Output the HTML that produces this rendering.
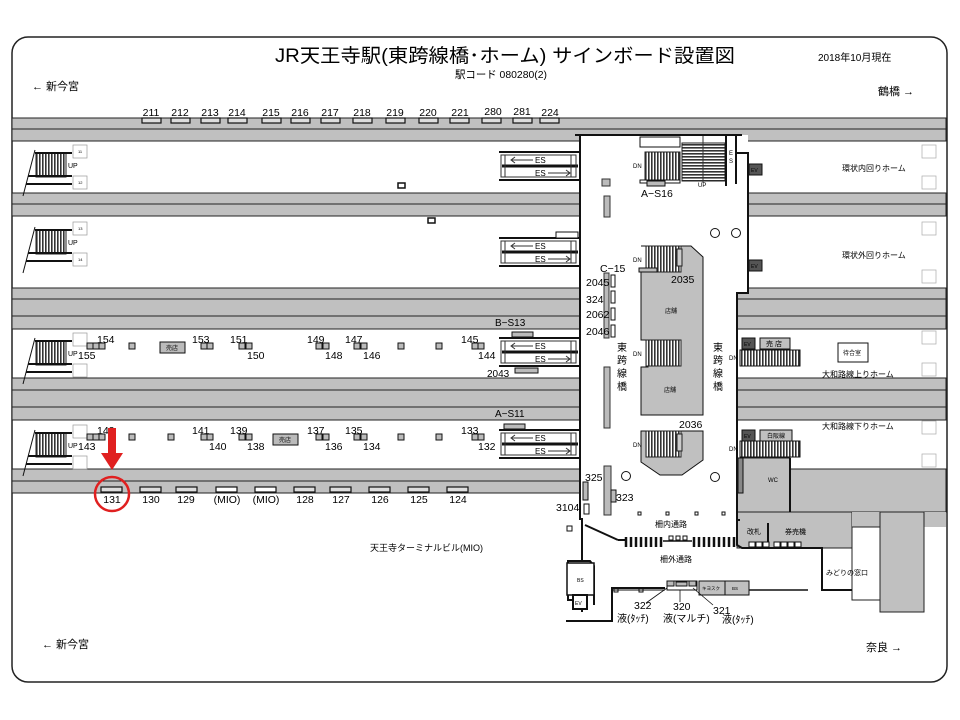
<!DOCTYPE html>
<html><head><meta charset="utf-8"><style>
html,body{margin:0;padding:0;background:#fff}
svg{display:block}
text{font-family:"Liberation Sans","Noto Sans CJK JP",sans-serif;fill:#000}
</style></head><body>
<svg width="960" height="720" viewBox="0 0 960 720" xmlns="http://www.w3.org/2000/svg">
<defs>
<pattern id="vs" width="3" height="10" patternUnits="userSpaceOnUse"><rect width="3" height="10" fill="#fff"/><rect width="1.6" height="10" fill="#333"/></pattern>
<pattern id="hs" width="10" height="3" patternUnits="userSpaceOnUse"><rect width="10" height="3" fill="#fff"/><rect width="10" height="1.6" fill="#333"/></pattern>
</defs>
<rect x="12" y="37" width="935" height="645" rx="16" fill="#fff" stroke="#222" stroke-width="1.5"/>

<g fill="#c0c0c0" stroke="#222" stroke-width="1">
<rect x="12" y="118" width="934" height="11"/>
<rect x="12" y="129" width="934" height="12"/>
<rect x="12" y="193" width="934" height="11"/>
<rect x="12" y="204" width="934" height="12"/>
<rect x="12" y="288" width="934" height="11"/>
<rect x="12" y="299" width="934" height="17"/>
<rect x="12" y="316" width="934" height="13"/>
<rect x="12" y="378" width="934" height="12"/>
<rect x="12" y="390" width="934" height="17"/>
<rect x="12" y="407" width="934" height="13"/>
<rect x="12" y="469" width="934" height="12"/>
<rect x="12" y="481" width="934" height="12"/>
</g>
<g fill="#c0c0c0" stroke="#222" stroke-width="1">
<rect x="790" y="469" width="156" height="43"/>
<rect x="737" y="458" width="53" height="54"/>
<rect x="737" y="512" width="115" height="36"/>
<rect x="852" y="512" width="94" height="15" stroke="none"/>
<rect x="880" y="512" width="44" height="100"/>
<rect x="852" y="527" width="28" height="73" fill="#fff"/>
</g>
<path d="M580 135 H748 V154 H748 V293 H737 V512 H737 V520 H580 Z" fill="#fff"/>
<g stroke="#111" stroke-width="2" fill="none">
<line x1="580" y1="135" x2="580" y2="520"/>
<line x1="575" y1="135" x2="742" y2="135"/>
<polyline points="737,153 748,153 748,293 737,293 737,512"/>
<polyline points="737,512 737,520 740,520"/>
<line x1="790" y1="458" x2="790" y2="512"/>
</g>

<g font-size="10.5" text-anchor="middle">
<text x="151" y="116">211</text><text x="180" y="116">212</text><text x="210" y="116">213</text><text x="237" y="116">214</text><text x="271" y="116">215</text><text x="300" y="116">216</text><text x="330" y="116">217</text><text x="362" y="116">218</text><text x="395" y="116">219</text><text x="428" y="116">220</text><text x="460" y="116">221</text><text x="493" y="115">280</text><text x="522" y="115">281</text><text x="550" y="116">224</text>
</g>
<g fill="#ddd" stroke="#111" stroke-width="1.2">
<rect x="142" y="118" width="19" height="5"/><rect x="171" y="118" width="19" height="5"/><rect x="201" y="118" width="19" height="5"/><rect x="228" y="118" width="19" height="5"/><rect x="262" y="118" width="19" height="5"/><rect x="291" y="118" width="19" height="5"/><rect x="321" y="118" width="19" height="5"/><rect x="353" y="118" width="19" height="5"/><rect x="386" y="118" width="19" height="5"/><rect x="419" y="118" width="19" height="5"/><rect x="450" y="118" width="19" height="5"/><rect x="482" y="118" width="19" height="5"/><rect x="513" y="118" width="19" height="5"/><rect x="540" y="118" width="19" height="5"/>
</g>

<g id="st">
<rect x="36" y="153" width="30" height="24" fill="url(#vs)" stroke="#222"/>
<line x1="35" y1="153" x2="72" y2="153" stroke="#111" stroke-width="2"/>
<line x1="28" y1="176" x2="72" y2="176" stroke="#111" stroke-width="2"/>
<line x1="26" y1="184" x2="72" y2="184" stroke="#111" stroke-width="2"/>
<line x1="35" y1="150" x2="23" y2="196" stroke="#111"/>
<text x="68" y="168" font-size="7">UP</text>
<rect x="73" y="145" width="14" height="13" fill="#fff" stroke="#999" stroke-width="0.7"/>
<rect x="73" y="176" width="14" height="13" fill="#fff" stroke="#999" stroke-width="0.7"/>
</g>
<use href="#st" transform="translate(0,77)"/>
<use href="#st" transform="translate(0,188)"/>
<use href="#st" transform="translate(0,280)"/>
<g font-size="4" fill="#666"><text x="78" y="153">11</text><text x="78" y="184">12</text><text x="78" y="230">13</text><text x="78" y="261">14</text></g>
<rect x="398" y="183" width="7" height="5" fill="none" stroke="#111" stroke-width="1.5"/>
<rect x="428" y="218" width="7" height="5" fill="none" stroke="#111" stroke-width="1.5"/>

<g fill="#bbb" stroke="#111" stroke-width="1">
<rect x="87" y="343" width="6" height="6"/><rect x="93" y="343" width="6" height="6"/><rect x="99" y="343" width="6" height="6"/>
<rect x="129" y="343" width="6" height="6"/>
<rect x="201" y="343" width="6" height="6"/><rect x="207" y="343" width="6" height="6"/>
<rect x="239" y="343" width="6" height="6"/><rect x="246" y="343" width="6" height="6"/>
<rect x="316" y="343" width="6" height="6"/><rect x="323" y="343" width="6" height="6"/>
<rect x="354" y="343" width="6" height="6"/><rect x="361" y="343" width="6" height="6"/>
<rect x="398" y="343" width="6" height="6"/><rect x="436" y="343" width="6" height="6"/>
<rect x="472" y="343" width="6" height="6"/><rect x="478" y="343" width="6" height="6"/>
<rect x="160" y="342" width="25" height="11"/>
<rect x="87" y="434" width="6" height="6"/><rect x="93" y="434" width="6" height="6"/><rect x="99" y="434" width="6" height="6"/>
<rect x="129" y="434" width="6" height="6"/><rect x="168" y="434" width="6" height="6"/>
<rect x="201" y="434" width="6" height="6"/><rect x="207" y="434" width="6" height="6"/>
<rect x="239" y="434" width="6" height="6"/><rect x="246" y="434" width="6" height="6"/>
<rect x="316" y="434" width="6" height="6"/><rect x="323" y="434" width="6" height="6"/>
<rect x="354" y="434" width="6" height="6"/><rect x="361" y="434" width="6" height="6"/>
<rect x="398" y="434" width="6" height="6"/><rect x="436" y="434" width="6" height="6"/>
<rect x="472" y="434" width="6" height="6"/><rect x="478" y="434" width="6" height="6"/>
<rect x="273" y="434" width="25" height="11"/>
</g>
<g font-size="6"><text x="166" y="350">売店</text><text x="279" y="442">売店</text></g>
<g font-size="10.5">
<text x="97" y="343">154</text><text x="78" y="359">155</text><text x="192" y="343">153</text><text x="230" y="343">151</text><text x="247" y="359">150</text><text x="307" y="343">149</text><text x="345" y="343">147</text><text x="325" y="359">148</text><text x="363" y="359">146</text><text x="461" y="343">145</text><text x="478" y="359">144</text>
<text x="97" y="434">142</text><text x="78" y="450">143</text><text x="192" y="434">141</text><text x="209" y="450">140</text><text x="230" y="434">139</text><text x="247" y="450">138</text><text x="307" y="434">137</text><text x="345" y="434">135</text><text x="325" y="450">136</text><text x="363" y="450">134</text><text x="461" y="434">133</text><text x="478" y="450">132</text>
</g>

<g fill="#ddd" stroke="#111" stroke-width="1.2">
<rect x="101" y="487" width="21" height="5"/><rect x="140" y="487" width="21" height="5"/><rect x="176" y="487" width="21" height="5"/><rect x="216" y="487" width="21" height="5" fill="#fff"/><rect x="255" y="487" width="21" height="5" fill="#fff"/><rect x="294" y="487" width="21" height="5"/><rect x="330" y="487" width="21" height="5"/><rect x="369" y="487" width="21" height="5"/><rect x="408" y="487" width="21" height="5"/><rect x="447" y="487" width="21" height="5"/>
</g>
<g font-size="10.5" text-anchor="middle">
<text x="112" y="503">131</text><text x="151" y="503">130</text><text x="186" y="503">129</text><text x="227" y="503">(MIO)</text><text x="266" y="503">(MIO)</text><text x="305" y="503">128</text><text x="341" y="503">127</text><text x="380" y="503">126</text><text x="419" y="503">125</text><text x="458" y="503">124</text>
</g>
<circle cx="112" cy="494" r="17" fill="none" stroke="#e02020" stroke-width="2.5"/>
<rect x="108" y="428" width="8" height="27" fill="#e02020"/>
<polygon points="101,453 123,453 112,470" fill="#e02020"/>

<g id="es">
<line x1="499" y1="152" x2="580" y2="152" stroke="#111" stroke-width="2"/>
<line x1="499" y1="180" x2="580" y2="180" stroke="#111" stroke-width="2"/>
<line x1="502" y1="166" x2="578" y2="166" stroke="#111" stroke-width="3"/>
<rect x="501" y="155" width="75" height="22" fill="none" stroke="#333"/>
<line x1="505" y1="155" x2="505" y2="177" stroke="#333"/><line x1="571" y1="155" x2="571" y2="177" stroke="#333"/>
<text x="535" y="163" font-size="8">ES</text><text x="535" y="176" font-size="8">ES</text>
<line x1="512" y1="160" x2="533" y2="160" stroke="#333"/><line x1="548" y1="173" x2="570" y2="173" stroke="#333"/>
<polyline points="515,157 511,160 515,163" fill="none" stroke="#333"/><polyline points="566,170 570,173 566,176" fill="none" stroke="#333"/>
</g>
<use href="#es" transform="translate(0,86)"/>
<use href="#es" transform="translate(0,186)"/>
<use href="#es" transform="translate(0,278)"/>
<rect x="556" y="232" width="22" height="6" fill="#fff" stroke="#111"/>
<rect x="512" y="332" width="21" height="5" fill="#bbb" stroke="#111"/>
<rect x="515" y="368" width="23" height="5" fill="#bbb" stroke="#111"/>
<rect x="504" y="424" width="21" height="5" fill="#bbb" stroke="#111"/>
<g font-size="10"><text x="495" y="326">B−S13</text><text x="487" y="377">2043</text><text x="495" y="417">A−S11</text></g>

<rect x="640" y="137" width="40" height="10" fill="#fff" stroke="#111"/>
<rect x="645" y="152" width="35" height="28" fill="url(#vs)" stroke="#222"/>
<rect x="640" y="180" width="40" height="3" fill="#fff" stroke="#111"/>
<rect x="682" y="143" width="43" height="38" fill="url(#hs)" stroke="#222"/>
<line x1="703" y1="136" x2="703" y2="183" stroke="#333"/>
<line x1="726" y1="136" x2="726" y2="186" stroke="#111" stroke-width="2"/>
<line x1="736" y1="136" x2="736" y2="184" stroke="#111" stroke-width="2"/>
<text x="729" y="155" font-size="6">E</text><text x="729" y="163" font-size="6">S</text>
<text x="633" y="168" font-size="6">DN</text><text x="698" y="187" font-size="6">UP</text>
<rect x="647" y="181" width="18" height="5" fill="#bbb" stroke="#111"/>
<text x="641" y="197" font-size="10.5">A−S16</text>
<rect x="602" y="179" width="8" height="7" fill="#bbb" stroke="#333"/>
<rect x="604" y="196" width="6" height="21" fill="#bbb" stroke="#333"/>
<circle cx="715" cy="233" r="4.5" fill="#fff" stroke="#111"/><circle cx="736" cy="233" r="4.5" fill="#fff" stroke="#111"/>
<path d="M641 246 H691 L703 257 V415 H641 V367 H648 V340 H641 V272 H648 V246 Z" fill="#c0c0c0" stroke="#111"/>
<rect x="646" y="246" width="35" height="26" fill="url(#vs)" stroke="#222"/>
<rect x="677" y="249" width="5" height="17" fill="#ccc" stroke="#222"/>
<rect x="639" y="268" width="18" height="4" fill="#bbb" stroke="#111"/>
<rect x="646" y="340" width="35" height="26" fill="url(#vs)" stroke="#222"/>
<text x="665" y="313" font-size="6">店舗</text><text x="664" y="392" font-size="6">店舗</text>
<path d="M641 431 H703 V460 L682 475 H660 L641 462 Z" fill="#c0c0c0" stroke="#111"/>
<rect x="646" y="431" width="35" height="26" fill="url(#vs)" stroke="#222"/>
<rect x="677" y="434" width="5" height="17" fill="#ccc" stroke="#222"/>
<g font-size="6"><text x="633" y="262">DN</text><text x="633" y="356">DN</text><text x="633" y="447">DN</text></g>
<rect x="604" y="273" width="5" height="65" fill="#bbb" stroke="#333"/>
<g fill="#fff" stroke="#111"><rect x="611" y="275" width="4" height="12"/><rect x="611" y="291" width="4" height="12"/><rect x="611" y="308" width="4" height="12"/><rect x="611" y="325" width="4" height="12"/></g>
<rect x="604" y="367" width="6" height="61" fill="#bbb" stroke="#333"/>
<rect x="604" y="466" width="7" height="49" fill="#bbb" stroke="#333"/>
<rect x="611" y="490" width="5" height="12" fill="#bbb" stroke="#111"/>
<rect x="583" y="482" width="5" height="18" fill="#bbb" stroke="#111"/>
<rect x="584" y="504" width="5" height="10" fill="#fff" stroke="#111"/>
<g font-size="10.5"><text x="600" y="272">C−15</text><text x="671" y="283">2035</text><text x="679" y="428">2036</text>
<text x="586" y="286">2045</text><text x="586" y="303">324</text><text x="586" y="318">2062</text><text x="586" y="335">2046</text>
<text x="585" y="481">325</text><text x="616" y="501">323</text><text x="556" y="511">3104</text></g>
<g font-size="10"><text x="617" y="351">東</text><text x="617" y="364">跨</text><text x="617" y="377">線</text><text x="617" y="390">橋</text>
<text x="713" y="351">東</text><text x="713" y="364">跨</text><text x="713" y="377">線</text><text x="713" y="390">橋</text></g>
<circle cx="626" cy="476" r="4.5" fill="#fff" stroke="#111"/><circle cx="715" cy="477" r="4.5" fill="#fff" stroke="#111"/>

<g fill="#555" stroke="#111"><rect x="749" y="164" width="13" height="11"/><rect x="749" y="260" width="13" height="11"/><rect x="742" y="338" width="13" height="11"/><rect x="742" y="430" width="13" height="11"/></g>
<g font-size="5"><text x="751" y="172" fill="#fff">EV</text><text x="751" y="268" fill="#fff">EV</text><text x="744" y="346" fill="#fff">EV</text><text x="744" y="438" fill="#fff">EV</text></g>
<rect x="760" y="338" width="30" height="11" fill="#c0c0c0" stroke="#111"/>
<rect x="760" y="430" width="32" height="11" fill="#c0c0c0" stroke="#111"/>
<text x="766" y="346" font-size="7">売 店</text><text x="767" y="438" font-size="6">白阪線</text>
<rect x="740" y="350" width="60" height="16" fill="url(#vs)" stroke="#111"/>
<rect x="740" y="441" width="60" height="16" fill="url(#vs)" stroke="#111"/>
<g font-size="6"><text x="729" y="360">DN</text><text x="729" y="451">DN</text></g>
<rect x="838" y="343" width="30" height="19" fill="#fff" stroke="#111"/>
<text x="843" y="355" font-size="6">待合室</text>
<g font-size="8"><text x="842" y="171">環状内回りホーム</text><text x="842" y="258">環状外回りホーム</text><text x="822" y="377">大和路線上りホーム</text><text x="822" y="429">大和路線下りホーム</text></g>
<g fill="#fff" stroke="#aaa" stroke-width="0.7"><rect x="922" y="145" width="14" height="13"/><rect x="922" y="176" width="14" height="13"/><rect x="922" y="222" width="14" height="13"/><rect x="922" y="270" width="14" height="13"/><rect x="922" y="331" width="14" height="13"/><rect x="922" y="363" width="14" height="13"/><rect x="922" y="421" width="14" height="13"/><rect x="922" y="454" width="14" height="13"/></g>
<text x="768" y="482" font-size="6">WC</text>
<rect x="738" y="458" width="5" height="35" fill="#888" stroke="#111"/>

<g fill="#fff" stroke="#111" stroke-width="1"><rect x="638" y="512" width="3" height="3"/><rect x="666" y="512" width="3" height="3"/><rect x="695" y="512" width="3" height="3"/><rect x="722" y="512" width="3" height="3"/><rect x="567" y="526" width="5" height="5"/><rect x="614" y="588" width="4" height="4"/><rect x="639" y="588" width="4" height="4"/></g>
<text x="655" y="527" font-size="8">柵内通路</text><text x="660" y="562" font-size="8">柵外通路</text>
<g stroke="#111" stroke-width="2" fill="none">
<polyline points="582,518 582,561 568,561 568,600 582,600 582,612"/>
<polyline points="582,561 590,561 594,566 594,605"/>
<polyline points="566,621 612,621 612,588 665,588"/>
<line x1="585" y1="525" x2="618" y2="540"/>
<line x1="618" y1="540" x2="625" y2="540"/>
<polyline points="737,518 737,545 742,548 822,548 822,590 852,590"/>
<line x1="768" y1="546" x2="768" y2="523"/>
</g>
<g stroke="#111" stroke-width="2.5">
<line x1="626" y1="537" x2="626" y2="547"/><line x1="631" y1="537" x2="631" y2="547"/><line x1="636" y1="537" x2="636" y2="547"/><line x1="641" y1="537" x2="641" y2="547"/><line x1="646" y1="537" x2="646" y2="547"/><line x1="651" y1="537" x2="651" y2="547"/><line x1="656" y1="537" x2="656" y2="547"/><line x1="661" y1="537" x2="661" y2="547"/>
<line x1="694" y1="537" x2="694" y2="547"/><line x1="699" y1="537" x2="699" y2="547"/><line x1="704" y1="537" x2="704" y2="547"/><line x1="709" y1="537" x2="709" y2="547"/><line x1="714" y1="537" x2="714" y2="547"/><line x1="719" y1="537" x2="719" y2="547"/><line x1="724" y1="537" x2="724" y2="547"/><line x1="729" y1="537" x2="729" y2="547"/><line x1="734" y1="537" x2="734" y2="547"/>
</g>
<line x1="663" y1="541" x2="692" y2="541" stroke="#111" stroke-width="1.5"/>
<g fill="#fff" stroke="#111"><rect x="669" y="536" width="4" height="4"/><rect x="676" y="536" width="4" height="4"/><rect x="683" y="536" width="4" height="4"/></g>
<g fill="#fff" stroke="#111"><rect x="749" y="542" width="6" height="5"/><rect x="756" y="542" width="6" height="5"/><rect x="763" y="542" width="6" height="5"/><rect x="774" y="542" width="6" height="5"/><rect x="781" y="542" width="6" height="5"/><rect x="788" y="542" width="6" height="5"/><rect x="795" y="542" width="6" height="5"/></g>
<g font-size="7"><text x="747" y="534">改札</text><text x="785" y="534">券売機</text><text x="826" y="575">みどりの窓口</text></g>
<rect x="567" y="563" width="27" height="32" fill="#fff" stroke="#111" stroke-width="1.5"/>
<text x="577" y="582" font-size="5">BS</text>
<rect x="573" y="595" width="14" height="14" fill="#fff" stroke="#111" stroke-width="2"/>
<text x="575" y="605" font-size="5">EV</text>
<line x1="612" y1="590" x2="612" y2="621" stroke="#111" stroke-width="1.5"/>
<line x1="612" y1="590" x2="665" y2="590" stroke="#111"/>
<rect x="667" y="581" width="30" height="9" fill="#fff" stroke="#111"/>
<g fill="#bbb" stroke="#111"><rect x="667" y="581" width="7" height="5"/><rect x="676" y="582" width="11" height="4"/><rect x="689" y="581" width="7" height="5"/></g>
<rect x="699" y="581" width="50" height="14" fill="#c0c0c0" stroke="#111"/>
<line x1="725" y1="581" x2="725" y2="595" stroke="#111"/>
<text x="702" y="590" font-size="4.5">キヨスク</text><text x="732" y="590" font-size="4.5">BS</text>
<line x1="749" y1="590" x2="808" y2="590" stroke="#111" stroke-width="1.5"/>
<g font-size="10.5"><text x="634" y="609">322</text><text x="673" y="610">320</text><text x="713" y="614">321</text></g>
<g font-size="10"><text x="617" y="622">液(ﾀｯﾁ)</text><text x="663" y="622">液(マルチ)</text><text x="722" y="623">液(ﾀｯﾁ)</text></g>
<g stroke="#111" stroke-width="0.8"><line x1="667" y1="588" x2="646" y2="603"/><line x1="680" y1="590" x2="680" y2="602"/><line x1="693" y1="588" x2="713" y2="605"/></g>

<text x="505" y="62" font-size="19" text-anchor="middle" textLength="460" lengthAdjust="spacingAndGlyphs">JR天王寺駅(東跨線橋･ホーム) サインボード設置図</text>
<text x="455" y="78" font-size="10.5" textLength="92" lengthAdjust="spacingAndGlyphs">駅コード 080280(2)</text>
<text x="818" y="61" font-size="10">2018年10月現在</text>
<text x="32" y="90" font-size="11">←  新今宮</text>
<text x="878" y="95" font-size="11">鶴橋  →</text>
<text x="42" y="648" font-size="11">←  新今宮</text>
<text x="866" y="651" font-size="11">奈良  →</text>
<text x="370" y="551" font-size="9">天王寺ターミナルビル(MIO)</text>
</svg>
</body></html>
